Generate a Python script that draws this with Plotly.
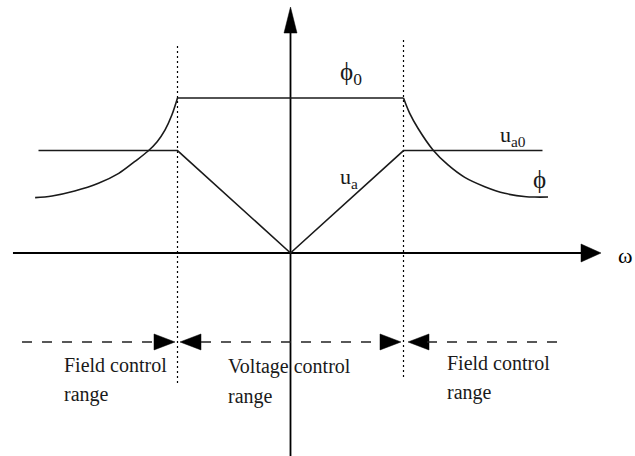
import plotly.graph_objects as go

# ---------------- data (omega normalised to base speed, values normalised to phi0) ----------------
phi_left_omega = [-2.26, -2.11, -1.91, -1.70, -1.52, -1.38, -1.26, -1.18, -1.11, -1.05, -1.00]
phi_left = [0.357, 0.368, 0.400, 0.450, 0.514, 0.589, 0.658, 0.718, 0.794, 0.890, 1.000]
phi_right_omega = [1.00, 1.055, 1.128, 1.261, 1.394, 1.542, 1.719, 1.896, 2.087, 2.161, 2.279]
phi_right = [1.000, 0.901, 0.805, 0.665, 0.568, 0.488, 0.428, 0.385, 0.363, 0.361, 0.361]
phi0_omega = [-1.0, 1.0]
phi0_value = [1.0, 1.0]
ua_omega = [-2.23, -1.0, 0.0, 1.0, 2.23]
ua_value = [0.661, 0.661, 0.0, 0.661, 0.661]
base_speed = [-1.0, 1.0]

curve_labels = ["ϕ<sub>0</sub>", "u<sub>a</sub>", "u<sub>a0</sub>", "ϕ"]
axis_label = "ω"
range_labels = [("Field control", "range"), ("Voltage control", "range"), ("Field control", "range")]

# ---------------- layout constants ----------------
W, H = 635, 456
PX_X = 113.0   # pixels per omega unit
PX_Y = 155.0   # pixels per value unit
X0_PX, Y0_PX = 290.5, 253.0
x_range = [-X0_PX / PX_X, (W - X0_PX) / PX_X]
y_range = [(Y0_PX - H) / PX_Y, Y0_PX / PX_Y]

FONT = "Liberation Serif"
INK = "#1a1a1a"

fig = go.Figure()


def line(xs, ys, width=1.6, dash="solid", color=INK, shape="linear"):
    fig.add_trace(go.Scatter(x=xs, y=ys, mode="lines",
                             line=dict(color=color, width=width, dash=dash, shape=shape),
                             hoverinfo="skip", showlegend=False))


def arrowhead(tx, ty, direction, length_px, half_px):
    # direction: 'right', 'left', 'up'
    if direction in ("right", "left"):
        s = 1 if direction == "right" else -1
        bx = tx - s * length_px / PX_X
        xs = [tx, bx, bx, tx]
        ys = [ty, ty + half_px / PX_Y, ty - half_px / PX_Y, ty]
    else:
        by = ty - length_px / PX_Y
        xs = [tx, tx - half_px / PX_X, tx + half_px / PX_X, tx]
        ys = [ty, by, by, ty]
    fig.add_trace(go.Scatter(x=xs, y=ys, mode="lines", fill="toself",
                             fillcolor="black", line=dict(color="black", width=0.5),
                             hoverinfo="skip", showlegend=False))


# axes
h_start, h_tip = -2.456, 2.748
v_bottom, v_tip = y_range[0], 1.587
line([h_start, h_tip - 10 / PX_X], [0, 0], width=1.8, color="black")
arrowhead(h_tip, 0, "right", 20, 9)
line([0, 0], [v_bottom, v_tip - 10 / PX_Y], width=1.8, color="black")
arrowhead(0, v_tip, "up", 26, 6.5)

# base speed dotted lines
line([base_speed[0]] * 2, [-0.839, 1.355], width=1.2, dash="2px,3px", color="black")
line([base_speed[1]] * 2, [-0.800, 1.394], width=1.2, dash="2px,3px", color="black")

# curves
line(phi0_omega, phi0_value)
line(ua_omega, ua_value)
line(phi_left_omega, phi_left, shape="spline")
line(phi_right_omega, phi_right, shape="spline")

# range arrows
ry = -0.574
alen, ahalf = 21, 8
gap = 2.5 / PX_X
line([-2.376, -1.0 - gap - alen / PX_X], [ry, ry], width=1.4, dash="10px,10px", color="#222")
arrowhead(-1.0 - gap, ry, "right", alen, ahalf)
arrowhead(-1.0 + gap, ry, "left", alen, ahalf)
line([-1.0 + gap + alen / PX_X, 1.0 - gap - alen / PX_X], [ry, ry], width=1.4, dash="10px,10px", color="#222")
arrowhead(1.0 - gap, ry, "right", alen, ahalf)
arrowhead(1.0 + gap + 2 / PX_X, ry, "left", alen, ahalf)
line([1.0 + gap + alen / PX_X, 2.367], [ry, ry], width=1.4, dash="10px,10px", color="#222")

# curve labels
label_pos = [(0.420, 1.161), (0.420, 0.484), (1.836, 0.755), (2.128, 0.477)]
label_size = [25, 22, 22, 25]
for txt, (x, y), sz in zip(curve_labels, label_pos, label_size):
    fig.add_annotation(x=x, y=y, text=txt, showarrow=False, xanchor="left", yanchor="middle",
                       font=dict(family=FONT, size=sz, color=INK))

fig.add_annotation(x=2.96, y=-0.019, text=axis_label, showarrow=False,
                   xanchor="center", yanchor="middle", font=dict(family=FONT, size=22, color="black"))

range_pos = [(-2.022, -0.7226, -0.916), (-0.571, -0.729, -0.923), (1.367, -0.710, -0.903)]
for (l1, l2), (x, y1, y2) in zip(range_labels, range_pos):
    fig.add_annotation(x=x, y=y1, text=l1, showarrow=False, xanchor="left", yanchor="middle",
                       font=dict(family=FONT, size=20, color=INK))
    fig.add_annotation(x=x, y=y2, text=l2, showarrow=False, xanchor="left", yanchor="middle",
                       font=dict(family=FONT, size=20, color=INK))

fig.update_layout(
    width=W, height=H, margin=dict(l=0, r=0, t=0, b=0),
    paper_bgcolor="white", plot_bgcolor="white",
    xaxis=dict(range=x_range, visible=False, fixedrange=True),
    yaxis=dict(range=y_range, visible=False, fixedrange=True),
    showlegend=False,
)

fig.write_html("out.html", config={"displayModeBar": False},
               post_script="document.body.style.margin='0px';document.body.style.overflow='hidden';")
